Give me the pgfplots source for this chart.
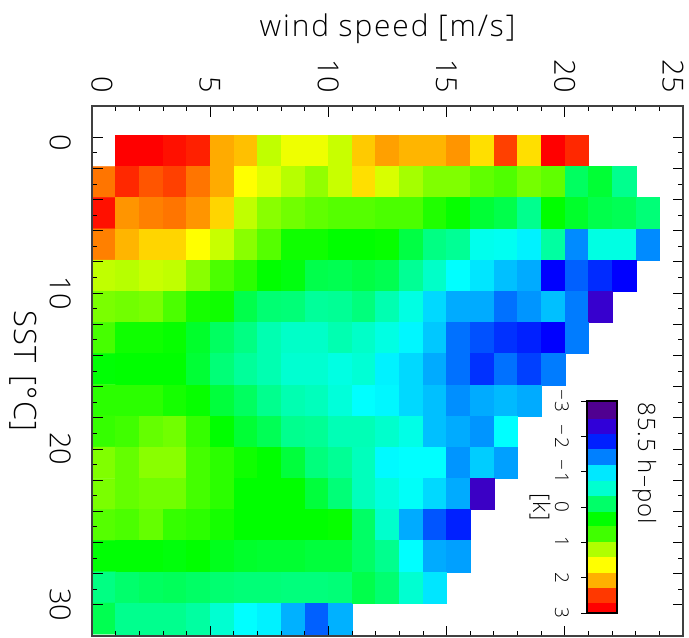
\documentclass[border=0pt]{standalone}
\usepackage{fontspec}
\setmainfont{Open Sans Light}
\usepackage{pgfplots}
\pgfplotsset{compat=1.18}

% stops follow the value scale -3..3 (position = value+3)
\pgfplotsset{colormap={rainbowk}{
  rgb255(0cm)=(80,0,144); rgb255(0.25cm)=(80,0,144); rgb255(0.7cm)=(48,0,224);
  rgb255(1cm)=(0,0,255); rgb255(1.3cm)=(0,64,255); rgb255(1.6cm)=(0,128,255);
  rgb255(1.9cm)=(0,192,255); rgb255(2.15cm)=(0,255,255); rgb255(2.45cm)=(0,255,200);
  rgb255(2.9cm)=(0,255,96); rgb255(3.35cm)=(0,255,0); rgb255(3.65cm)=(64,255,0);
  rgb255(3.95cm)=(128,255,0); rgb255(4.3cm)=(192,255,0); rgb255(4.7cm)=(255,255,0);
  rgb255(5.15cm)=(255,160,0); rgb255(5.6cm)=(255,64,0); rgb255(6cm)=(255,0,0)}}

\definecolor{cb1}{RGB}{80,0,144}
\definecolor{cb2}{RGB}{48,0,216}
\definecolor{cb3}{RGB}{0,32,255}
\definecolor{cb4}{RGB}{0,128,255}
\definecolor{cb5}{RGB}{0,232,255}
\definecolor{cb6}{RGB}{0,255,208}
\definecolor{cb7}{RGB}{0,255,104}
\definecolor{cb8}{RGB}{0,255,0}
\definecolor{cb9}{RGB}{64,255,0}
\definecolor{cb10}{RGB}{176,255,0}
\definecolor{cb11}{RGB}{255,255,0}
\definecolor{cb12}{RGB}{255,176,0}
\definecolor{cb13}{RGB}{255,56,0}
\definecolor{cb14}{RGB}{255,0,0}

\begin{document}
\begin{tikzpicture}
\path[use as bounding box] (0,0) rectangle (689bp,-638bp);

\begin{axis}[
  at={(92bp,-106bp)}, anchor=north west,
  scale only axis, width=591bp, height=530bp,
  xmin=0, xmax=25, ymin=-2, ymax=32, y dir=reverse,
  axis on top,
  colormap name=rainbowk, point meta min=-3, point meta max=3,
  unbounded coords=jump,
  xtick={0,5,10,15,20,25},
  xticklabels={\raisebox{10bp}{0},5,10,15,20,\raisebox{-10bp}{25}},
  minor x tick num=4,
  ytick={0,2,...,30},
  yticklabels={\hspace*{12bp}0,,,,,10,,,,,20,,,,,30},
  minor y tick num=1,
  tick align=inside,
  major tick length=10.5bp, minor tick length=5bp,
  every tick/.style={black, line width=0.8bp},
  axis line style={black!75, line width=1.3bp},
  x tick label style={font=\fontsize{29}{32}\selectfont, xshift=-10.5bp, yshift=13bp, rotate=-90, anchor=base east, inner sep=0pt},
  y tick label style={font=\fontsize{29}{32}\selectfont, xshift=-42bp, rotate=-90, anchor=base, inner sep=0pt},
  xticklabel pos=upper, yticklabel pos=lower,
  xlabel={wind speed [m/s]},
  every axis x label/.style={font=\fontsize{30}{36}\selectfont\addfontfeatures{LetterSpace=6.3}, at={(axis description cs:0.5,1)}, yshift=70bp, anchor=base, inner sep=0pt},
  ylabel={SST\hspace{4bp} [°C]},
  every axis y label/.style={font=\fontsize{31}{36}\selectfont\addfontfeatures{LetterSpace=4}, at={(axis description cs:0,0.5)}, xshift=-77bp, rotate=-90, anchor=base, inner sep=0pt},
]
\addplot[matrix plot*, mesh/cols=25, mesh/ordering=x varies, point meta=explicit] coordinates {
(0.5,0.88)[nan] (1.5,0.88)[3] (2.5,0.88)[3] (3.5,0.88)[2.9] (4.5,0.88)[2.8] (5.5,0.88)[2.1] (6.5,0.88)[2] (7.5,0.88)[1.3] (8.5,0.88)[1.6] (9.5,0.88)[1.6] (10.5,0.88)[1.35] (11.5,0.88)[1.95] (12.5,0.88)[2.15] (13.5,0.88)[2.05] (14.5,0.88)[2.05] (15.5,0.88)[2.2] (16.5,0.88)[1.85] (17.5,0.88)[2.6] (18.5,0.88)[1.85] (19.5,0.88)[3] (20.5,0.88)[2.75] (21.5,0.88)[nan] (22.5,0.88)[nan] (23.5,0.88)[nan] (24.5,0.88)[nan]
(0.5,2.88)[2.35] (1.5,2.88)[2.75] (2.5,2.88)[2.5] (3.5,2.88)[2.6] (4.5,2.88)[2.35] (5.5,2.88)[2.1] (6.5,2.88)[1.7] (7.5,2.88)[1.5] (8.5,2.88)[1.25] (9.5,2.88)[1.05] (10.5,2.88)[1.35] (11.5,2.88)[1.85] (12.5,2.88)[1.45] (13.5,2.88)[1.15] (14.5,2.88)[0.95] (15.5,2.88)[0.95] (16.5,2.88)[0.8] (17.5,2.88)[0.72] (18.5,2.88)[0.9] (19.5,2.88)[0.8] (20.5,2.88)[-0.1] (21.5,2.88)[0.1] (22.5,2.88)[-0.3] (23.5,2.88)[nan] (24.5,2.88)[nan]
(0.5,4.88)[2.9] (1.5,4.88)[2.2] (2.5,4.88)[2.3] (3.5,4.88)[2.35] (4.5,4.88)[2.2] (5.5,4.88)[1.9] (6.5,4.88)[1.3] (7.5,4.88)[1] (8.5,4.88)[0.88] (9.5,4.88)[0.8] (10.5,4.88)[0.75] (11.5,4.88)[0.75] (12.5,4.88)[0.7] (13.5,4.88)[0.7] (14.5,4.88)[0.5] (15.5,4.88)[0.38] (16.5,4.88)[0.1] (17.5,4.88)[0] (18.5,4.88)[-0.3] (19.5,4.88)[0.35] (20.5,4.88)[0.15] (21.5,4.88)[0] (22.5,4.88)[-0.05] (23.5,4.88)[-0.2] (24.5,4.88)[nan]
(0.5,6.88)[2.3] (1.5,6.88)[2.05] (2.5,6.88)[1.9] (3.5,6.88)[1.9] (4.5,6.88)[1.7] (5.5,6.88)[1.35] (6.5,6.88)[1] (7.5,6.88)[0.75] (8.5,6.88)[0.42] (9.5,6.88)[0.42] (10.5,6.88)[0.35] (11.5,6.88)[0.35] (12.5,6.88)[0.38] (13.5,6.88)[0.03] (14.5,6.88)[-0.25] (15.5,6.88)[-0.33] (16.5,6.88)[-0.75] (17.5,6.88)[-0.78] (18.5,6.88)[-0.9] (19.5,6.88)[-0.38] (20.5,6.88)[-1.35] (21.5,6.88)[-0.7] (22.5,6.88)[-0.7] (23.5,6.88)[-1.35] (24.5,6.88)[nan]
(0.5,8.88)[1.3] (1.5,8.88)[1.25] (2.5,8.88)[1.35] (3.5,8.88)[1.3] (4.5,8.88)[1] (5.5,8.88)[0.7] (6.5,8.88)[0.55] (7.5,8.88)[0.35] (8.5,8.88)[0.28] (9.5,8.88)[0] (10.5,8.88)[-0.03] (11.5,8.88)[0.03] (12.5,8.88)[-0.03] (13.5,8.88)[-0.33] (14.5,8.88)[-0.55] (15.5,8.88)[-0.85] (16.5,8.88)[-0.95] (17.5,8.88)[-1.1] (18.5,8.88)[-1.2] (19.5,8.88)[-2] (20.5,8.88)[-1.55] (21.5,8.88)[-1.8] (22.5,8.88)[-2] (23.5,8.88)[nan] (24.5,8.88)[nan]
(0.5,10.88)[0.92] (1.5,10.88)[0.88] (2.5,10.88)[0.92] (3.5,10.88)[0.7] (4.5,10.88)[0.45] (5.5,10.88)[0.42] (6.5,10.88)[0] (7.5,10.88)[-0.18] (8.5,10.88)[-0.2] (9.5,10.88)[-0.35] (10.5,10.88)[-0.33] (11.5,10.88)[-0.22] (12.5,10.88)[-0.45] (13.5,10.88)[-0.7] (14.5,10.88)[-1] (15.5,10.88)[-1.2] (16.5,10.88)[-1.2] (17.5,10.88)[-1.47] (18.5,10.88)[-1.3] (19.5,10.88)[-1.1] (20.5,10.88)[-1.42] (21.5,10.88)[-2.4] (22.5,10.88)[nan] (23.5,10.88)[nan] (24.5,10.88)[nan]
(0.5,12.88)[0.68] (1.5,12.88)[0.42] (2.5,12.88)[0.42] (3.5,12.88)[0.38] (4.5,12.88)[0.15] (5.5,12.88)[-0.1] (6.5,12.88)[-0.25] (7.5,12.88)[-0.45] (8.5,12.88)[-0.55] (9.5,12.88)[-0.55] (10.5,12.88)[-0.45] (11.5,12.88)[-0.55] (12.5,12.88)[-0.7] (13.5,12.88)[-0.88] (14.5,12.88)[-1.07] (15.5,12.88)[-1.47] (16.5,12.88)[-1.62] (17.5,12.88)[-1.77] (18.5,12.88)[-1.85] (19.5,12.88)[-2] (20.5,12.88)[-1.42] (21.5,12.88)[nan] (22.5,12.88)[nan] (23.5,12.88)[nan] (24.5,12.88)[nan]
(0.5,14.88)[0.33] (1.5,14.88)[0.35] (2.5,14.88)[0.35] (3.5,14.88)[0.35] (4.5,14.88)[0.1] (5.5,14.88)[-0.2] (6.5,14.88)[-0.35] (7.5,14.88)[-0.45] (8.5,14.88)[-0.6] (9.5,14.88)[-0.6] (10.5,14.88)[-0.7] (11.5,14.88)[-0.62] (12.5,14.88)[-0.9] (13.5,14.88)[-1] (14.5,14.88)[-1.2] (15.5,14.88)[-1.47] (16.5,14.88)[-1.77] (17.5,14.88)[-1.47] (18.5,14.88)[-1.7] (19.5,14.88)[-1.42] (20.5,14.88)[nan] (21.5,14.88)[nan] (22.5,14.88)[nan] (23.5,14.88)[nan] (24.5,14.88)[nan]
(0.5,16.88)[0.55] (1.5,16.88)[0.55] (2.5,16.88)[0.55] (3.5,16.88)[0.45] (4.5,16.88)[0.38] (5.5,16.88)[0.07] (6.5,16.88)[-0.1] (7.5,16.88)[-0.3] (8.5,16.88)[-0.45] (9.5,16.88)[-0.5] (10.5,16.88)[-0.65] (11.5,16.88)[-0.85] (12.5,16.88)[-0.88] (13.5,16.88)[-1] (14.5,16.88)[-1.1] (15.5,16.88)[-1.33] (16.5,16.88)[-1.2] (17.5,16.88)[-1.13] (18.5,16.88)[-1.2] (19.5,16.88)[nan] (20.5,16.88)[nan] (21.5,16.88)[nan] (22.5,16.88)[nan] (23.5,16.88)[nan] (24.5,16.88)[nan]
(0.5,18.88)[0.6] (1.5,18.88)[0.65] (2.5,18.88)[0.82] (3.5,18.88)[0.88] (4.5,18.88)[0.6] (5.5,18.88)[0.35] (6.5,18.88)[0.1] (7.5,18.88)[-0.05] (8.5,18.88)[-0.3] (9.5,18.88)[-0.33] (10.5,18.88)[-0.47] (11.5,18.88)[-0.47] (12.5,18.88)[-0.57] (13.5,18.88)[-0.72] (14.5,18.88)[-1.1] (15.5,18.88)[-1.2] (16.5,18.88)[-1.3] (17.5,18.88)[-0.85] (18.5,18.88)[nan] (19.5,18.88)[nan] (20.5,18.88)[nan] (21.5,18.88)[nan] (22.5,18.88)[nan] (23.5,18.88)[nan] (24.5,18.88)[nan]
(0.5,20.88)[0.95] (1.5,20.88)[0.82] (2.5,20.88)[1] (3.5,20.88)[1] (4.5,20.88)[0.67] (5.5,20.88)[0.55] (6.5,20.88)[0.42] (7.5,20.88)[0.35] (8.5,20.88)[0.07] (9.5,20.88)[-0.22] (10.5,20.88)[-0.33] (11.5,20.88)[-0.5] (12.5,20.88)[-0.87] (13.5,20.88)[-0.85] (14.5,20.88)[-0.85] (15.5,20.88)[-1.3] (16.5,20.88)[-1.05] (17.5,20.88)[-1.25] (18.5,20.88)[nan] (19.5,20.88)[nan] (20.5,20.88)[nan] (21.5,20.88)[nan] (22.5,20.88)[nan] (23.5,20.88)[nan] (24.5,20.88)[nan]
(0.5,22.88)[0.92] (1.5,22.88)[0.82] (2.5,22.88)[0.88] (3.5,22.88)[0.88] (4.5,22.88)[0.67] (5.5,22.88)[0.55] (6.5,22.88)[0.35] (7.5,22.88)[0.35] (8.5,22.88)[0.35] (9.5,22.88)[0.07] (10.5,22.88)[-0.2] (11.5,22.88)[-0.5] (12.5,22.88)[-0.67] (13.5,22.88)[-0.82] (14.5,22.88)[-1] (15.5,22.88)[-1.2] (16.5,22.88)[-2.45] (17.5,22.88)[nan] (18.5,22.88)[nan] (19.5,22.88)[nan] (20.5,22.88)[nan] (21.5,22.88)[nan] (22.5,22.88)[nan] (23.5,22.88)[nan] (24.5,22.88)[nan]
(0.5,24.88)[0.75] (1.5,24.88)[0.7] (2.5,24.88)[0.82] (3.5,24.88)[0.6] (4.5,24.88)[0.55] (5.5,24.88)[0.45] (6.5,24.88)[0.35] (7.5,24.88)[0.35] (8.5,24.88)[0.35] (9.5,24.88)[0.35] (10.5,24.88)[0.38] (11.5,24.88)[-0.12] (12.5,24.88)[-0.57] (13.5,24.88)[-1.2] (14.5,24.88)[-1.6] (15.5,24.88)[-1.85] (16.5,24.88)[nan] (17.5,24.88)[nan] (18.5,24.88)[nan] (19.5,24.88)[nan] (20.5,24.88)[nan] (21.5,24.88)[nan] (22.5,24.88)[nan] (23.5,24.88)[nan] (24.5,24.88)[nan]
(0.5,26.88)[0.33] (1.5,26.88)[0.33] (2.5,26.88)[0.33] (3.5,26.88)[0.3] (4.5,26.88)[0.35] (5.5,26.88)[0.22] (6.5,26.88)[0.15] (7.5,26.88)[0.12] (8.5,26.88)[0.12] (9.5,26.88)[0.07] (10.5,26.88)[0.07] (11.5,26.88)[-0.12] (12.5,26.88)[-0.3] (13.5,26.88)[-0.85] (14.5,26.88)[-1.2] (15.5,26.88)[-1.25] (16.5,26.88)[nan] (17.5,26.88)[nan] (18.5,26.88)[nan] (19.5,26.88)[nan] (20.5,26.88)[nan] (21.5,26.88)[nan] (22.5,26.88)[nan] (23.5,26.88)[nan] (24.5,26.88)[nan]
(0.5,28.88)[-0.25] (1.5,28.88)[-0.15] (2.5,28.88)[-0.1] (3.5,28.88)[-0.07] (4.5,28.88)[-0.12] (5.5,28.88)[-0.17] (6.5,28.88)[-0.2] (7.5,28.88)[-0.2] (8.5,28.88)[-0.22] (9.5,28.88)[-0.22] (10.5,28.88)[-0.2] (11.5,28.88)[0] (12.5,28.88)[-0.17] (13.5,28.88)[-0.6] (14.5,28.88)[-0.95] (15.5,28.88)[nan] (16.5,28.88)[nan] (17.5,28.88)[nan] (18.5,28.88)[nan] (19.5,28.88)[nan] (20.5,28.88)[nan] (21.5,28.88)[nan] (22.5,28.88)[nan] (23.5,28.88)[nan] (24.5,28.88)[nan]
(0.5,30.88)[-0.03] (1.5,30.88)[-0.3] (2.5,30.88)[-0.3] (3.5,30.88)[-0.3] (4.5,30.88)[-0.38] (5.5,30.88)[-0.6] (6.5,30.88)[-0.85] (7.5,30.88)[-0.9] (8.5,30.88)[-1.17] (9.5,30.88)[-1.55] (10.5,30.88)[-1.17] (11.5,30.88)[nan] (12.5,30.88)[nan] (13.5,30.88)[nan] (14.5,30.88)[nan] (15.5,30.88)[nan] (16.5,30.88)[nan] (17.5,30.88)[nan] (18.5,30.88)[nan] (19.5,30.88)[nan] (20.5,30.88)[nan] (21.5,30.88)[nan] (22.5,30.88)[nan] (23.5,30.88)[nan] (24.5,30.88)[nan]
};
\end{axis}

% colour bar
\begin{axis}[
  at={(587bp,-401bp)}, anchor=north west,
  scale only axis, width=30bp, height=212bp,
  xmin=0, xmax=1, ymin=-3, ymax=3, y dir=reverse,
  axis on top,
  xtick=\empty,
  ytick={-3,-2,-1,0,1,2,3},
  yticklabels={−3,−2,−1,0,1,2,3},
  ytick pos=left,
  tick align=outside,
  major tick length=6bp,
  every tick/.style={black, line width=0.8bp},
  axis line style={black, line width=1.3bp},
  y tick label style={font=\fontsize{19}{21}\selectfont\addfontfeatures{LetterSpace=10}, xshift=-26bp, rotate=-90, anchor=base, inner sep=0pt},
  ylabel={[k]},
  every axis y label/.style={font=\fontsize{23}{25}\selectfont\addfontfeatures{LetterSpace=5}, at={(axis description cs:0,0.5)}, xshift=-54bp, rotate=-90, anchor=base, inner sep=0pt},
]
\addplot[fill=cb1,draw=none] coordinates {(0,-3) (1,-3) (1,-2.5) (0,-2.5)} --cycle;
\addplot[fill=cb2,draw=none] coordinates {(0,-2.5) (1,-2.5) (1,-2.06) (0,-2.06)} --cycle;
\addplot[fill=cb3,draw=none] coordinates {(0,-2.06) (1,-2.06) (1,-1.63) (0,-1.63)} --cycle;
\addplot[fill=cb4,draw=none] coordinates {(0,-1.63) (1,-1.63) (1,-1.18) (0,-1.18)} --cycle;
\addplot[fill=cb5,draw=none] coordinates {(0,-1.18) (1,-1.18) (1,-0.74) (0,-0.74)} --cycle;
\addplot[fill=cb6,draw=none] coordinates {(0,-0.74) (1,-0.74) (1,-0.31) (0,-0.31)} --cycle;
\addplot[fill=cb7,draw=none] coordinates {(0,-0.31) (1,-0.31) (1,0.13) (0,0.13)} --cycle;
\addplot[fill=cb8,draw=none] coordinates {(0,0.13) (1,0.13) (1,0.55) (0,0.55)} --cycle;
\addplot[fill=cb9,draw=none] coordinates {(0,0.55) (1,0.55) (1,1) (0,1)} --cycle;
\addplot[fill=cb10,draw=none] coordinates {(0,1) (1,1) (1,1.42) (0,1.42)} --cycle;
\addplot[fill=cb11,draw=none] coordinates {(0,1.42) (1,1.42) (1,1.86) (0,1.86)} --cycle;
\addplot[fill=cb12,draw=none] coordinates {(0,1.86) (1,1.86) (1,2.28) (0,2.28)} --cycle;
\addplot[fill=cb13,draw=none] coordinates {(0,2.28) (1,2.28) (1,2.72) (0,2.72)} --cycle;
\addplot[fill=cb14,draw=none] coordinates {(0,2.72) (1,2.72) (1,3) (0,3)} --cycle;
\end{axis}
\node[rotate=-90, anchor=base west, inner sep=0pt, font=\fontsize{24}{28}\selectfont\addfontfeatures{LetterSpace=5}] at (638bp,-402bp) {85.5 h–pol};
\end{tikzpicture}
\end{document}
